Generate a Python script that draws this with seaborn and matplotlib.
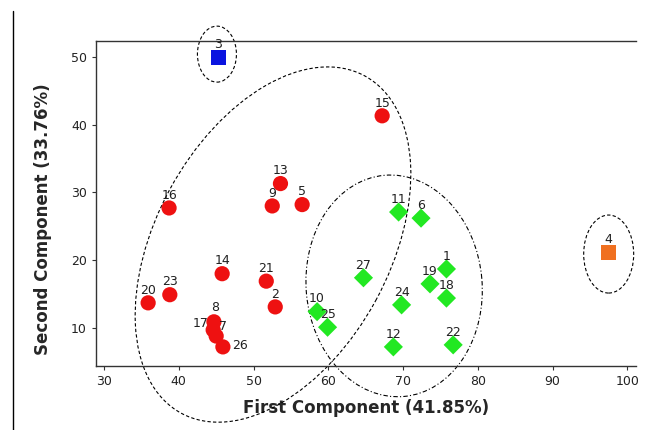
import matplotlib
matplotlib.use('Agg')
import seaborn as sns
import matplotlib.pyplot as plt
import matplotlib.transforms as mtransforms
from matplotlib.patches import Ellipse
from matplotlib.lines import Line2D
import pandas as pd

# sample ids, PCA scores and group
sample_ids = [1, 2, 3, 4, 5, 6, 7, 8, 9, 10, 11, 12, 13, 14,
              15, 16, 17, 18, 19, 20, 21, 22, 23, 24, 25, 26, 27]
first_comp = [75.8, 52.9, 45.3, 97.5, 56.5, 72.4, 45.0, 44.7, 52.5, 58.5, 69.4, 68.7, 53.6, 45.8,
              67.2, 38.7, 44.6, 75.8, 73.6, 35.9, 51.7, 76.7, 38.8, 69.8, 59.9, 45.9, 64.7]
second_comp = [18.7, 13.1, 49.9, 21.1, 28.2, 26.2, 8.8, 10.9, 28.0, 12.4, 27.1, 7.2, 31.3, 18.0,
               41.3, 27.7, 9.7, 14.4, 16.5, 13.7, 16.9, 7.5, 14.9, 13.4, 10.1, 7.2, 17.4]
groups = ['G', 'R', 'B', 'O', 'R', 'G', 'R', 'R', 'R', 'G', 'G', 'G', 'R', 'R',
          'R', 'R', 'R', 'G', 'G', 'R', 'R', 'G', 'R', 'G', 'G', 'R', 'G']

palette = {'R': '#ee1111', 'G': '#22e822', 'B': '#0a14e0', 'O': '#f07020'}
markers = {'R': 'o', 'G': 'D', 'B': 's', 'O': 's'}
sizes = {'R': 120, 'G': 95, 'B': 110, 'O': 110}

# label nudges (points) for the crowded cluster
nudge = {8: (1, 5.5), 17: (-9, 0), 7: (5, 2), 26: (12, -4)}

# group ellipses: centre (data), width/height (inches), angle, line style
ellipses = [
    ((52.6, 22.3), 3.84, 2.34, 61.4, (0, (3, 2))),
    ((68.8, 16.2), 2.22, 1.76, 95.0, (0, (4, 2, 1, 2))),
    ((45.1, 50.4), 0.39, 0.56, 0.0, (0, (3, 2))),
    ((97.5, 20.9), 0.50, 0.78, 0.0, (0, (3, 2))),
]

df = pd.DataFrame({'id': sample_ids, 'x': first_comp, 'y': second_comp, 'grp': groups})

sns.set_style('white')
plt.rcParams['font.family'] = ['DejaVu Sans']

fig = plt.figure(figsize=(6.51, 4.30), dpi=100)
ax = fig.add_axes([0.1475, 0.149, 0.83, 0.756])

for g in ['R', 'G', 'B', 'O']:
    sub = df[df['grp'] == g]
    sns.scatterplot(data=sub, x='x', y='y', color=palette[g], marker=markers[g],
                    s=sizes[g], edgecolor='none', ax=ax, legend=False, zorder=3)

for _, row in df.iterrows():
    off = nudge.get(row['id'], (0, 4.5))
    ax.annotate(str(row['id']), (row['x'], row['y']), xytext=off,
                textcoords='offset points', ha='center', va='bottom',
                fontsize=9, color='#202020', zorder=4)

for (cx, cy), w, h, ang, ls in ellipses:
    tr = fig.dpi_scale_trans + mtransforms.ScaledTranslation(cx, cy, ax.transData)
    e = Ellipse((0, 0), w, h, angle=ang, transform=tr, fill=False,
                edgecolor='black', linewidth=0.8, linestyle=ls, clip_on=False, zorder=2)
    ax.add_artist(e)

ax.set_xlim(28.93, 101.2)
ax.set_ylim(4.39, 52.36)
ax.set_xticks([30, 40, 50, 60, 70, 80, 90, 100])
ax.set_yticks([10, 20, 30, 40, 50])
ax.tick_params(axis='both', direction='out', length=3, width=0.8, labelsize=9,
               colors='#333333', labelcolor='#222222', bottom=True, left=True)

for side in ['left', 'bottom', 'top']:
    ax.spines[side].set_color('#333333')
    ax.spines[side].set_linewidth(1.0)
ax.spines['right'].set_visible(False)

ax.set_xlabel('First Component (41.85%)', fontsize=12, fontweight='bold', labelpad=8)
ax.set_ylabel('Second Component (33.76%)', fontsize=12, fontweight='bold')
ax.yaxis.set_label_coords(-0.082, 0.45)

fig.add_artist(Line2D([0.02, 0.02], [0.0, 0.975], color='black', linewidth=1.0,
                      transform=fig.transFigure))

fig.savefig('out.png', dpi=100)
